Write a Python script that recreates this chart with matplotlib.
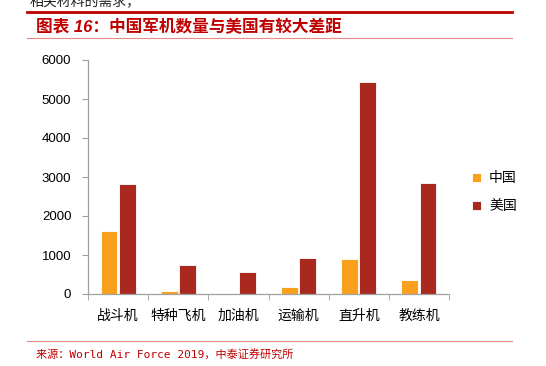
import numpy as np
import matplotlib
matplotlib.use('Agg')
import matplotlib.pyplot as plt
from matplotlib.lines import Line2D

plt.rcParams['font.family'] = ['Liberation Sans', 'Noto Sans CJK SC', 'DejaVu Sans']

categories = ['战斗机', '特种飞机', '加油机', '运输机', '直升机', '教练机']
china = [1620, 80, 0, 180, 890, 350]
usa = [2830, 740, 570, 920, 5430, 2850]
series_names = ['中国', '美国']
colors = ['#F9A11F', '#A9291F']

fig = plt.figure(figsize=(5.46, 3.66), dpi=100)
ax = fig.add_axes([88 / 546, 1 - 294 / 366, (449 - 88) / 546, (294 - 60) / 366])

x = np.arange(len(categories))
w = 0.28
ax.bar(x - w / 2 - 0.01, china, w, color=colors[0], edgecolor='white', linewidth=0.6, label=series_names[0])
ax.bar(x + w / 2 + 0.01, usa, w, color=colors[1], edgecolor='white', linewidth=0.6, label=series_names[1])

ax.set_xlim(-0.5, len(categories) - 0.5)
ax.set_ylim(0, 6000)
ax.set_yticks(range(0, 6001, 1000))
ax.tick_params(axis='y', labelsize=9.5, length=4, color='#A0A0A0', pad=8)

# category labels centred, ticks on the boundaries
ax.set_xticks(x)
ax.set_xticklabels(categories, fontsize=10)
ax.tick_params(axis='x', length=0, pad=11)
ax.set_xticks(np.arange(-0.5, len(categories)), minor=True)
ax.tick_params(axis='x', which='minor', length=4, color='#A0A0A0')

for s in ['top', 'right']:
    ax.spines[s].set_visible(False)
for s in ['left', 'bottom']:
    ax.spines[s].set_color('#A0A0A0')
    ax.spines[s].set_linewidth(0.9)

ax.legend(loc='center left', bbox_to_anchor=(1.03, 0.435), frameon=False,
          fontsize=10, handlelength=0.6, handleheight=0.6, handletextpad=0.6,
          labelspacing=1.0)

# header / footer decoration
fig.text(30 / 546, 1 - 1 / 366, '相关材料的需求，', fontsize=10, color='#222222', va='center',
         family=['Noto Sans CJK SC'])
fig.add_artist(Line2D([27 / 546, 512 / 546], [1 - 12 / 366] * 2, color='#C00000', lw=2.0))
fig.text(36 / 546, 1 - 27 / 366, '图表 16：中国军机数量与美国有较大差距', fontsize=12,
         color='#C00000', fontweight='bold', va='center', style='italic',
         family=['Liberation Sans', 'Noto Sans CJK SC'])
fig.add_artist(Line2D([27 / 546, 512 / 546], [1 - 38 / 366] * 2, color='#E88A8A', lw=0.8))
fig.add_artist(Line2D([27 / 546, 512 / 546], [1 - 341 / 366] * 2, color='#E88A8A', lw=0.8))
fig.text(36 / 546, 1 - 354 / 366, '来源：World Air Force 2019，中泰证券研究所', fontsize=8,
         color='#C00000', va='center', family=['DejaVu Sans Mono', 'Noto Sans CJK SC'])

fig.savefig('out.png', dpi=100)
